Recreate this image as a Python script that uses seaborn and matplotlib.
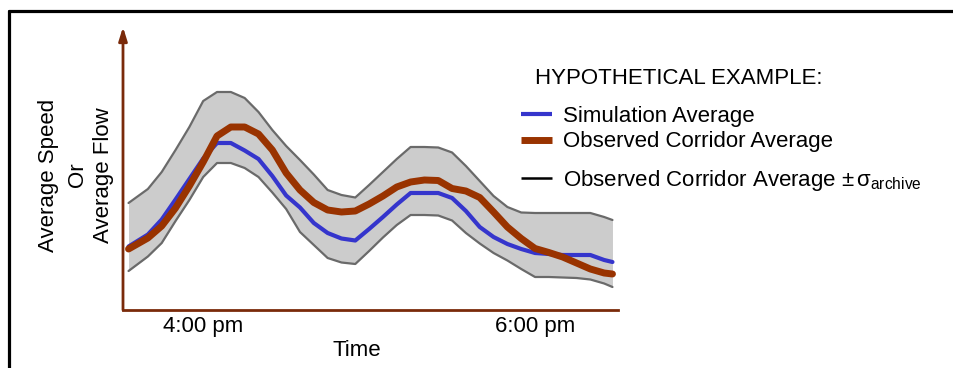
import matplotlib
matplotlib.use('Agg')
import matplotlib.pyplot as plt
from matplotlib.lines import Line2D
import seaborn as sns
import numpy as np

sns.set_style('white')
plt.rcParams['font.family'] = ['Liberation Sans', 'DejaVu Sans']
plt.rcParams['mathtext.fontset'] = 'custom'
plt.rcParams['mathtext.rm'] = 'Liberation Sans'
plt.rcParams['mathtext.it'] = 'Liberation Sans'
plt.rcParams['text.color'] = 'black'
plt.rcParams['xtick.color'] = 'black'

# minutes after 4:00 pm
minutes = [-27, -20, -15, -10, -5, 0, 5, 10, 15, 20, 25, 30, 35, 40, 45, 50, 55, 60,
           65, 70, 75, 80, 85, 90, 95, 100, 105, 110, 115, 120, 125, 130, 135, 140, 145, 148]

sim_avg = [63.5, 75.5, 90.5, 110.5, 131, 151.5, 167, 167, 159.5, 151, 134, 114.5,
           102.5, 87, 77, 71.5, 69.5, 81, 93, 105.5, 117, 117, 117, 112, 99, 83,
           73, 66, 61, 57, 56, 55, 55, 55, 50, 48]
obs_avg = [61, 72, 84, 102, 124, 148, 174, 183, 183, 176, 160, 137, 120, 107.5,
           100, 98, 99, 106, 114, 123, 128, 130, 129.5, 121.5, 119, 112.5, 98, 83,
           71.5, 61.5, 57.5, 53, 47, 41, 37, 36]
obs_upper = [107, 121, 138, 160, 183, 209, 218, 218, 212, 198, 180, 164, 150, 135.5,
             120, 115, 112.5, 125, 138, 151, 163, 163, 162.5, 157.5, 144, 129, 114,
             103, 97.5, 97, 97, 97, 97, 97, 93, 90]
obs_lower = [39, 53.5, 67, 89, 110, 133, 147, 147, 142, 133, 117.5, 101, 78, 65, 52,
             47.5, 46, 59, 72.5, 85, 95, 95, 94.5, 89.5, 77, 66.5, 57, 49.5, 41, 33,
             33, 32.5, 32, 30.5, 26.5, 23]

tick_pos = [0, 120]
tick_labels = ['4:00 pm', '6:00 pm']

blue = '#3535cc'
rust = '#993300'
axis_col = '#7a2a0a'
band_col = '#6a6a6a'
fs = 16

fig = plt.figure(figsize=(9.54, 3.68), dpi=100)
ax = fig.add_axes([123 / 954, 58 / 368, 495 / 954, 283 / 368])

ax.fill_between(minutes, obs_lower, obs_upper, color='#cccccc', lw=0)
sns.lineplot(x=minutes, y=obs_upper, color=band_col, lw=1.6, ax=ax)
sns.lineplot(x=minutes, y=obs_lower, color=band_col, lw=1.6, ax=ax)
sns.lineplot(x=minutes, y=sim_avg, color=blue, lw=3, ax=ax)
sns.lineplot(x=minutes, y=obs_avg, color=rust, lw=5, ax=ax)

ax.set_xlim(-29, 150)
ax.set_ylim(0, 283)
ax.set_xticks(tick_pos)
ax.set_xticklabels(tick_labels, fontsize=fs)
ax.set_yticks([])
ax.tick_params(axis='x', length=0, pad=4)
for s in ['top', 'right', 'left']:
    ax.spines[s].set_visible(False)
ax.spines['bottom'].set_color(axis_col)
ax.spines['bottom'].set_linewidth(2)
ax.annotate('', xy=(0, 1.0), xytext=(0, 0), xycoords='axes fraction',
            arrowprops=dict(arrowstyle='-|>,head_length=0.8,head_width=0.25',
                            color=axis_col, lw=2, shrinkA=0, shrinkB=0))

# axis titles
fig.text(357 / 954, 1 - 350 / 368, 'Time', ha='center', va='center', fontsize=fs)
for xp, txt in [(49, 'Average Speed'), (77, 'Or'), (104, 'Average Flow')]:
    fig.text(xp / 954, 1 - 175 / 368, txt, rotation=90, ha='center', va='center',
             fontsize=fs)

# legend
fig.text(535 / 954, 1 - 78 / 368, 'HYPOTHETICAL EXAMPLE:', va='center', fontsize=fs)
leg_kw = dict(loc='upper left', frameon=False, fontsize=fs, handlelength=1.4,
              handletextpad=0.5, borderpad=0, borderaxespad=0, labelspacing=0.2)
fig.legend([Line2D([], [], color=blue, lw=3, solid_capstyle='butt'),
            Line2D([], [], color=rust, lw=5, solid_capstyle='butt')],
           ['Simulation Average', 'Observed Corridor Average'],
           bbox_to_anchor=(521 / 954, 1 - 106 / 368), **leg_kw)
fig.legend([Line2D([], [], color='black', lw=1.8, solid_capstyle='butt')],
           [r'Observed Corridor Average $\pm\,\sigma_{\mathrm{archive}}$'],
           bbox_to_anchor=(521 / 954, 1 - 168 / 368), **leg_kw)

# outer frame (left and top edges)
fig.add_artist(Line2D([9.5 / 954, 9.5 / 954], [0, 1 - 11 / 368], color='black', lw=2.3))
fig.add_artist(Line2D([9.5 / 954, 1], [1 - 11 / 368, 1 - 11 / 368], color='black', lw=2.3))

fig.savefig('out.png', dpi=100)
